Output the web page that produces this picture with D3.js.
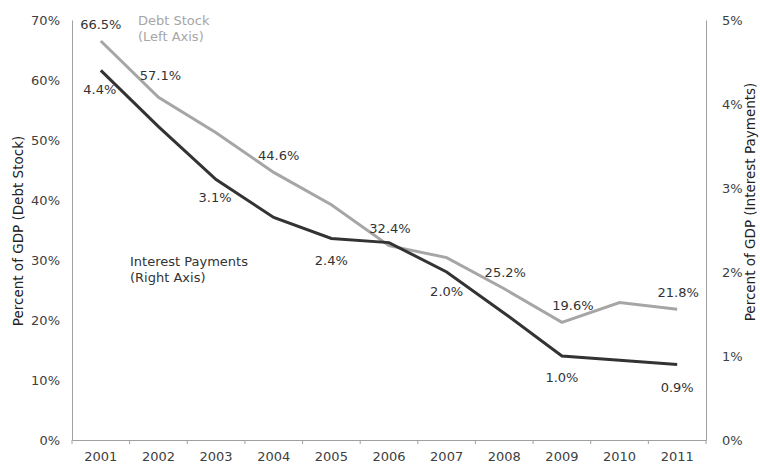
<!DOCTYPE html>
<html><head><meta charset="utf-8">
<script src="https://cdn.jsdelivr.net/npm/d3@7"></script>
<style>body{margin:0;background:#fff}svg{display:block}text{font-family:"DejaVu Sans",Verdana,sans-serif;}</style>
</head><body><svg id="c" width="760" height="464"></svg>
<script>
const years = ["2001","2002","2003","2004","2005","2006","2007","2008","2009","2010","2011"];
const debtStock = [66.5,57.1,51.2,44.6,39.2,32.4,30.4,25.2,19.6,22.9,21.8];
const interest = [4.4,3.73,3.1,2.65,2.4,2.35,2.0,1.51,1.0,0.95,0.9];
const debtLabels = ["66.5%","57.1%",null,"44.6%",null,"32.4%",null,"25.2%","19.6%",null,"21.8%"];
const intLabels = ["4.4%",null,"3.1%",null,"2.4%",null,"2.0%",null,"1.0%",null,"0.9%"];
const leftTicks = [0,10,20,30,40,50,60,70];
const rightTicks = [0,1,2,3,4,5];

const svg = d3.select("#c");
const L=72,R=706,T=20,B=440;
const x = d3.scaleBand().domain(years).range([L,R]);
const yL = d3.scaleLinear().domain([0,70]).range([B,T]);
const yR = d3.scaleLinear().domain([0,5]).range([B,T]);
const txt="#404040", axc="#a0a0a0";

// axes
const gx = svg.append("g").attr("transform",`translate(0,${B})`)
  .call(d3.axisBottom(x).tickSize(0).tickPadding(12));
gx.select(".domain").attr("stroke",axc);
gx.selectAll("text").attr("fill",txt).attr("font-size",13);
svg.append("g").selectAll("line").data(d3.range(years.length+1)).join("line")
  .attr("x1",i=>L+i*x.step()).attr("x2",i=>L+i*x.step()).attr("y1",B).attr("y2",B+4).attr("stroke",axc);

const gl = svg.append("g").attr("transform",`translate(${L},0)`)
  .call(d3.axisLeft(yL).tickValues(leftTicks).tickSize(0).tickPadding(12).tickFormat(d=>d+"%"));
gl.select(".domain").attr("stroke",axc);
gl.selectAll("text").attr("fill",txt).attr("font-size",13);

const gr = svg.append("g").attr("transform",`translate(${R},0)`)
  .call(d3.axisRight(yR).tickValues(rightTicks).tickSize(0).tickPadding(16).tickFormat(d=>d+"%"));
gr.select(".domain").attr("stroke",axc);
gr.selectAll("text").attr("fill",txt).attr("font-size",13);

svg.append("text").attr("transform","translate(23,231) rotate(-90)").attr("text-anchor","middle")
  .attr("fill","#222").attr("font-size",13.5).text("Percent of GDP (Debt Stock)");
svg.append("text").attr("transform","translate(755,202) rotate(-90)").attr("text-anchor","middle")
  .attr("fill","#222").attr("font-size",13.5).text("Percent of GDP (Interest Payments)");

const cx = d=>x(d)+x.bandwidth()/2;
svg.append("path").datum(debtStock).attr("fill","none").attr("stroke","#a6a6a6").attr("stroke-width",3)
  .attr("d",d3.line().x((d,i)=>cx(years[i])).y(d=>yL(d)));
svg.append("path").datum(interest).attr("fill","none").attr("stroke","#333333").attr("stroke-width",3)
  .attr("d",d3.line().x((d,i)=>cx(years[i])).y(d=>yR(d)));

// data labels
const dOff = [[0,-12],[2,-17],null,[5,-12],null,[1,-13],null,[1,-12],[11,-12],null,[1,-12]];
svg.append("g").selectAll("text").data(debtLabels.map((l,i)=>({l,i})).filter(d=>d.l)).join("text")
  .attr("x",d=>cx(years[d.i])+dOff[d.i][0]).attr("y",d=>yL(debtStock[d.i])+dOff[d.i][1])
  .attr("text-anchor","middle").attr("fill","#333").attr("font-size",13).text(d=>d.l);
const iOff = [[-1,24],null,[-1,22],null,[0,27],null,[0,24],null,[0,26],null,[0,28]];
svg.append("g").selectAll("text").data(intLabels.map((l,i)=>({l,i})).filter(d=>d.l)).join("text")
  .attr("x",d=>cx(years[d.i])+iOff[d.i][0]).attr("y",d=>yR(interest[d.i])+iOff[d.i][1])
  .attr("text-anchor","middle").attr("fill","#333").attr("font-size",13).text(d=>d.l);

svg.append("text").attr("x",138).attr("y",25).attr("fill","#a6a6a6").attr("font-size",13).text("Debt Stock");
svg.append("text").attr("x",138).attr("y",41).attr("fill","#a6a6a6").attr("font-size",13).text("(Left Axis)");
svg.append("text").attr("x",130).attr("y",266).attr("fill","#333").attr("font-size",13).text("Interest Payments");
svg.append("text").attr("x",130).attr("y",282).attr("fill","#333").attr("font-size",13).text("(Right Axis)");
</script></body></html>
